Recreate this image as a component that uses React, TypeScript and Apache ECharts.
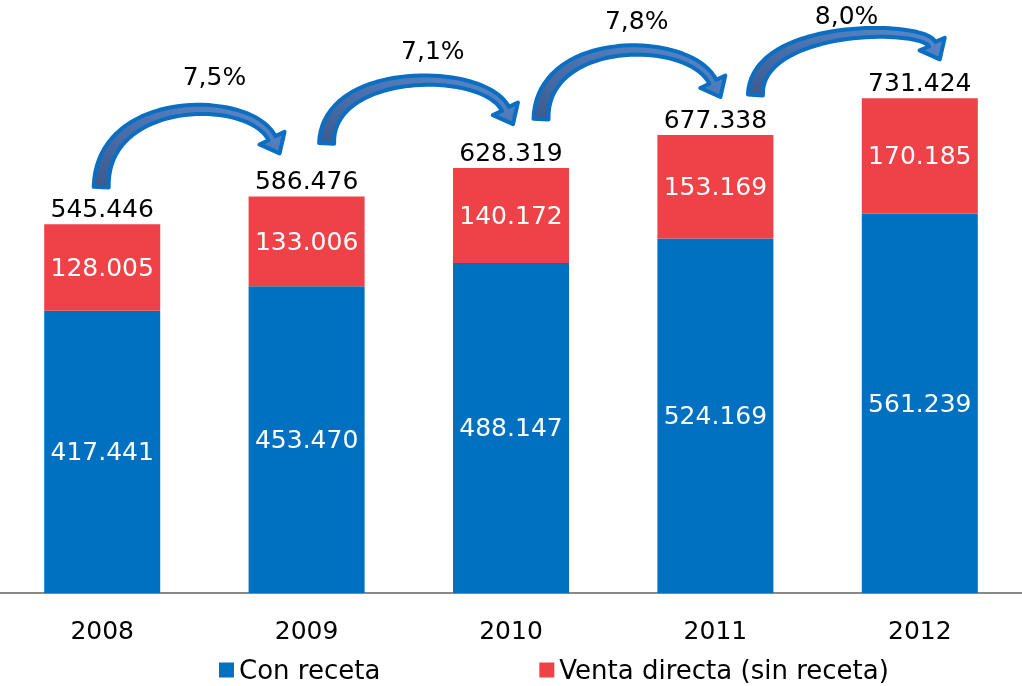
import React, { useEffect, useRef } from "react";
import * as echarts from "echarts";

const years = ["2008", "2009", "2010", "2011", "2012"];
const conReceta = [417441, 453470, 488147, 524169, 561239];
const ventaDirecta = [128005, 133006, 140172, 153169, 170185];
const seriesNames = ["Con receta", "Venta directa (sin receta)"];

// layout of the decorative growth arrows (pixel offsets from bar tops)
const arrowLayout = [
  { tail: [-1, -37], tip: [-27, -43], rise: 44, label: [24, -33] },
  { tail: [20, -53], tip: [2, -44], rise: 44, label: [13, -30] },
  { tail: [30, -49], tip: [5, -38], rise: 47, label: [6, -29] },
  { tail: [40, -40], tip: [20, -39], rise: 27, label: [-1, -17] },
];

const BLUE = "#0070C0";
const RED = "#EF4248";
const FONT = "DejaVu Sans";
const FS = 25;

function fmt(v: number): string {
  const s = Math.round(v).toString();
  return s.replace(/\B(?=(\d{3})+(?!\d))/g, ".");
}

function pct(a: number, b: number): string {
  return ((b / a - 1) * 100).toFixed(1).replace(".", ",") + "%";
}

export default function App() {
  const ref = useRef<HTMLDivElement>(null);
  useEffect(() => {
    if (!ref.current) return;
    const chart = echarts.init(ref.current, null, { renderer: "svg" });
    const totals = conReceta.map((v, i) => v + ventaDirecta[i]);
    const arrowData = totals.slice(0, -1).map((t, i) => [i, t, totals[i + 1]]);

    const renderArrow = (params: any, api: any) => {
      const i = api.value(0);
      const L = arrowLayout[i];
      const a = api.coord([i, api.value(1)]);
      const b = api.coord([i + 1, api.value(2)]);
      const T = [a[0] + L.tail[0], a[1] + L.tail[1]];
      const E = [b[0] + L.tip[0], b[1] + L.tip[1]];
      const peakY = E[1] - L.rise;
      let d = [0.45, 0.9];
      const dl = Math.hypot(d[0], d[1]);
      d = [d[0] / dl, d[1] / dl];
      const headLen = 17;
      const hw = 14;
      const H = [E[0] - d[0] * headLen, E[1] - d[1] * headLen];
      let c = peakY - 10;
      const N = 40;
      let pts: number[][] = [];
      const build = () => {
        const k = (H[1] - c) / d[1];
        const P1 = [T[0], c];
        const P2 = [H[0] - d[0] * k, c];
        pts = [];
        for (let j = 0; j <= N; j++) {
          const t = j / N;
          const u = 1 - t;
          const x = u * u * u * T[0] + 3 * u * u * t * P1[0] + 3 * u * t * t * P2[0] + t * t * t * H[0];
          const y = u * u * u * T[1] + 3 * u * u * t * P1[1] + 3 * u * t * t * P2[1] + t * t * t * H[1];
          pts.push([x, y]);
        }
      };
      for (let it = 0; it < 8; it++) {
        build();
        const minY = Math.min(...pts.map((p) => p[1]));
        c = c - (minY - peakY) / 0.75;
      }
      build();
      const sideA: number[][] = [];
      const sideB: number[][] = [];
      for (let j = 0; j <= N; j++) {
        const p0 = pts[Math.max(0, j - 1)];
        const p1 = pts[Math.min(N, j + 1)];
        let tx = p1[0] - p0[0];
        let ty = p1[1] - p0[1];
        const tl = Math.hypot(tx, ty) || 1;
        tx /= tl;
        ty /= tl;
        const t = j / N;
        const w = 4 + 3.5 * (1 - t) * (1 - t);
        const nx = ty;
        const ny = -tx;
        sideA.push([pts[j][0] + nx * w, pts[j][1] + ny * w]);
        sideB.push([pts[j][0] - nx * w, pts[j][1] - ny * w]);
      }
      const n = [d[1], -d[0]];
      let path = "M" + sideA.map((p) => p[0].toFixed(2) + " " + p[1].toFixed(2)).join(" L");
      path += " L" + (H[0] + n[0] * hw).toFixed(2) + " " + (H[1] + n[1] * hw).toFixed(2);
      path += " L" + E[0].toFixed(2) + " " + E[1].toFixed(2);
      path += " L" + (H[0] - n[0] * hw).toFixed(2) + " " + (H[1] - n[1] * hw).toFixed(2);
      path += " L" + sideB.slice().reverse().map((p) => p[0].toFixed(2) + " " + p[1].toFixed(2)).join(" L");
      path += " Z";
      const midX = (T[0] + E[0]) / 2;
      return {
        type: "group",
        children: [
          {
            type: "path",
            shape: { pathData: path },
            style: {
              fill: new echarts.graphic.LinearGradient(0, 1, 1, 0, [
                { offset: 0, color: "#3b5a8f" },
                { offset: 1, color: "#5a8ace" },
              ]),
              stroke: "#0A6EC2",
              lineWidth: 4,
              lineJoin: "round",
            },
          },
          {
            type: "text",
            style: {
              text: pct(api.value(1), api.value(2)),
              x: midX + L.label[0],
              y: peakY + L.label[1],
              align: "center",
              verticalAlign: "middle",
              fontSize: FS,
              fontFamily: FONT,
              fill: "#000",
            },
          },
        ],
      };
    };

    chart.setOption({
      animation: false,
      grid: { left: 0, right: 0, top: 52, bottom: 93 },
      legend: {
        data: seriesNames,
        left: 219,
        top: 657,
        padding: 0,
        icon: "rect",
        itemWidth: 15,
        itemHeight: 15,
        itemGap: 159,
        textStyle: { fontSize: 26, fontFamily: FONT, color: "#000" },
      },
      xAxis: {
        type: "category",
        data: years,
        axisLine: { lineStyle: { color: "#888888", width: 2 } },
        axisTick: { show: false },
        axisLabel: { fontSize: FS, fontFamily: FONT, color: "#000", margin: 25 },
      },
      yAxis: { type: "value", min: 0, max: 800000, show: false, splitLine: { show: false } },
      series: [
        {
          name: seriesNames[0],
          type: "bar",
          stack: "total",
          barWidth: 116,
          data: conReceta,
          itemStyle: { color: BLUE },
          label: {
            show: true,
            position: "inside",
            color: "#fff",
            fontSize: FS,
            fontFamily: FONT,
            formatter: (p: any) => fmt(p.value),
          },
        },
        {
          name: seriesNames[1],
          type: "bar",
          stack: "total",
          barWidth: 116,
          data: ventaDirecta,
          itemStyle: { color: RED },
          label: {
            show: true,
            position: "inside",
            color: "#fff",
            fontSize: FS,
            fontFamily: FONT,
            formatter: (p: any) => fmt(p.value),
          },
        },
        {
          name: "total",
          type: "bar",
          stack: "total",
          barWidth: 116,
          data: totals.map(() => 0),
          itemStyle: { color: "transparent" },
          label: {
            show: true,
            position: "top",
            distance: 3,
            color: "#000",
            fontSize: FS,
            fontFamily: FONT,
            formatter: (p: any) => fmt(totals[p.dataIndex]),
          },
          silent: true,
        },
        {
          name: "growth",
          type: "custom",
          data: arrowData,
          renderItem: renderArrow,
          encode: { x: 0, y: 1 },
          z: 10,
          silent: true,
        },
      ],
    });
    return () => chart.dispose();
  }, []);
  return (
    <div
      ref={ref}
      style={{ position: "fixed", left: 0, top: 0, width: 1022, height: 686 }}
    />
  );
}
